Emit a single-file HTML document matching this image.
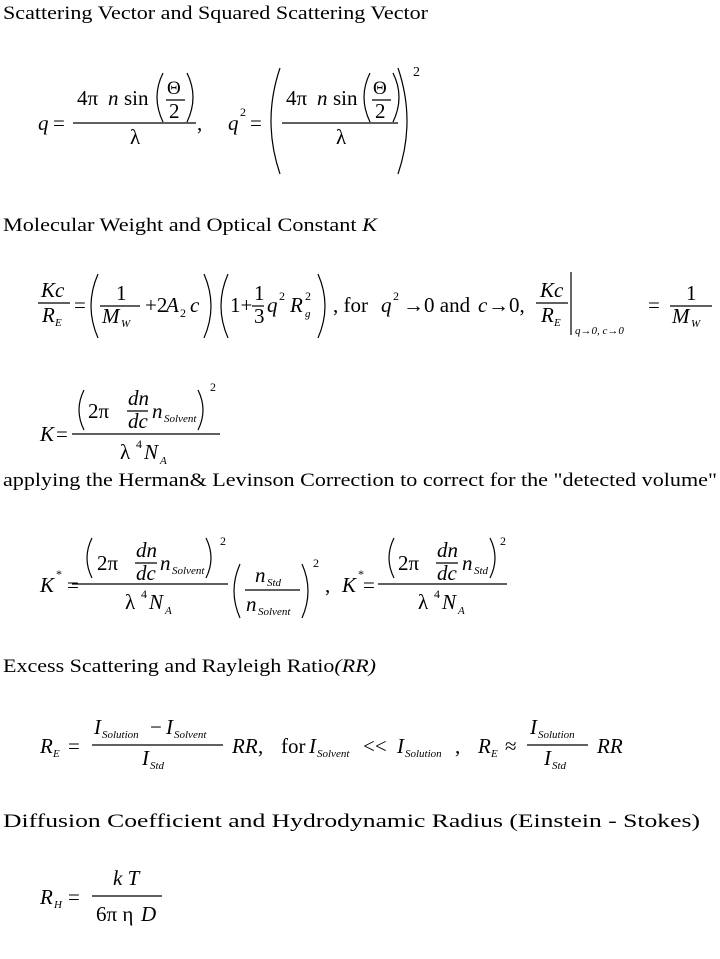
<!DOCTYPE html>
<html><head><meta charset="utf-8"><style>
html,body{margin:0;padding:0;background:#fff}
svg{display:block}
text{font-family:"Liberation Serif",serif;fill:#000;font-size:21px}
.i{font-style:italic}
.s{font-size:12px}
.ss{font-size:11px;font-style:italic}
.h{font-size:19px}
path,line{stroke:#000;fill:none;stroke-width:1.2}
</style></head><body>
<svg width="720" height="959" viewBox="0 0 720 959" xmlns="http://www.w3.org/2000/svg">
<text class="h" x="3" y="19" textLength="425" lengthAdjust="spacingAndGlyphs">Scattering Vector and Squared Scattering Vector</text>
<text class="i" x="38" y="130">q</text>
<text x="53" y="130">=</text>
<line x1="73" y1="123" x2="196" y2="123"/>
<text x="77" y="105">4π</text><text class="i" x="108" y="105">n</text><text x="124" y="105">sin</text>
<path d="M163 73 Q151 97 163 122"/><path d="M187 73 Q199 97 187 122"/>
<text x="167" y="94" style="font-size:19px">Θ</text>
<line x1="166" y1="100" x2="185" y2="100"/>
<text x="169" y="118">2</text>
<text x="130" y="144">λ</text>
<text x="197" y="130">,</text>
<text class="i" x="228" y="130">q</text><text class="s" x="240" y="116">2</text>
<text x="250" y="130">=</text>
<path d="M280 68 Q262 121 280 174"/><path d="M398 68 Q416 121 398 174"/>
<line x1="282" y1="123" x2="398" y2="123"/>
<text x="286" y="105">4π</text><text class="i" x="317" y="105">n</text><text x="333" y="105">sin</text>
<path d="M370 73 Q358 97 370 122"/><path d="M393 73 Q405 97 393 122"/>
<text x="373" y="94" style="font-size:19px">Θ</text>
<line x1="372" y1="100" x2="391" y2="100"/>
<text x="375" y="118">2</text>
<text x="336" y="144">λ</text>
<text class="s" x="413" y="76" style="font-size:14px">2</text>

<text class="h" x="3" y="231" textLength="374" lengthAdjust="spacingAndGlyphs">Molecular Weight and Optical Constant <tspan class="i">K</tspan></text>

<text class="i" x="41" y="297">Kc</text>
<line x1="38" y1="303" x2="70" y2="303"/>
<text class="i" x="42" y="322">R</text><text class="ss" x="55" y="326">E</text>
<text x="74" y="312">=</text>
<path d="M98 274 Q84 306 98 338"/>
<text x="116" y="300">1</text>
<line x1="100" y1="306" x2="140" y2="306"/>
<text class="i" x="102" y="323">M</text><text class="ss" x="121" y="327">W</text>
<text x="145" y="312">+2</text><text class="i" x="166" y="312">A</text><text class="s" x="180" y="317">2</text><text class="i" x="190" y="312">c</text>
<path d="M204 274 Q218 306 204 338"/>
<path d="M228 274 Q214 306 228 338"/>
<text x="230" y="312">1+</text>
<text x="254" y="300">1</text>
<line x1="252" y1="306" x2="264" y2="306"/>
<text x="254" y="323">3</text>
<text class="i" x="267" y="312">q</text><text class="s" x="279" y="300">2</text>
<text class="i" x="290" y="312">R</text><text class="s" x="305" y="300">2</text><text class="ss" x="305" y="317">g</text>
<path d="M318 274 Q332 306 318 338"/>
<text x="333" y="312">, for</text>
<text class="i" x="381" y="312">q</text><text class="s" x="393" y="300">2</text>
<text x="403" y="312">→0 and</text>
<text class="i" x="478" y="312">c</text>
<text x="488" y="312">→0,</text>
<text class="i" x="540" y="297">Kc</text>
<line x1="536" y1="303" x2="568" y2="303"/>
<text class="i" x="541" y="322">R</text><text class="ss" x="554" y="326">E</text>
<line x1="571" y1="272" x2="571" y2="335"/>
<text class="ss" x="575" y="334">q→0, c→0</text>
<text x="648" y="312">=</text>
<text x="686" y="300">1</text>
<line x1="670" y1="306" x2="712" y2="306"/>
<text class="i" x="672" y="323">M</text><text class="ss" x="691" y="327">W</text>

<text class="i" x="40" y="441">K</text>
<text x="56" y="441">=</text>
<line x1="72" y1="434" x2="220" y2="434"/>
<path d="M84 390 Q74 410 84 430"/>
<text x="88" y="418">2π</text>
<text class="i" x="128" y="405">dn</text>
<line x1="127" y1="411" x2="148" y2="411"/>
<text class="i" x="128" y="428">dc</text>
<text class="i" x="152" y="418">n</text><text class="ss" x="164" y="422">Solvent</text>
<path d="M198 390 Q208 410 198 430"/>
<text class="s" x="210" y="391">2</text>
<text x="120" y="459">λ</text><text class="s" x="136" y="448">4</text><text class="i" x="144" y="459">N</text><text class="ss" x="160" y="464">A</text>

<text class="h" x="3" y="486" textLength="714" lengthAdjust="spacingAndGlyphs">applying the Herman&amp; Levinson Correction to correct for the "detected volume"</text>

<text class="i" x="40" y="592">K</text><text class="s" x="56" y="578">*</text>
<text x="67" y="592">=</text>
<line x1="72" y1="584" x2="228" y2="584"/>
<path d="M92 538 Q82 558 92 578"/>
<text x="97" y="570">2π</text>
<text class="i" x="136" y="557">dn</text>
<line x1="135" y1="563" x2="157" y2="563"/>
<text class="i" x="136" y="580">dc</text>
<text class="i" x="160" y="570">n</text><text class="ss" x="172" y="574">Solvent</text>
<path d="M206 538 Q216 558 206 578"/>
<text class="s" x="220" y="545">2</text>
<text x="125" y="609">λ</text><text class="s" x="141" y="598">4</text><text class="i" x="149" y="609">N</text><text class="ss" x="165" y="614">A</text>
<path d="M240 564 Q228 591 240 618"/>
<text class="i" x="255" y="582">n</text><text class="ss" x="267" y="586">Std</text>
<line x1="245" y1="590" x2="300" y2="590"/>
<text class="i" x="246" y="611">n</text><text class="ss" x="258" y="615">Solvent</text>
<path d="M302 564 Q314 591 302 618"/>
<text class="s" x="313" y="567">2</text>
<text x="325" y="592">,</text>
<text class="i" x="342" y="592">K</text><text class="s" x="358" y="578">*</text>
<text x="363" y="592">=</text>
<line x1="378" y1="584" x2="507" y2="584"/>
<path d="M394 538 Q384 558 394 578"/>
<text x="398" y="570">2π</text>
<text class="i" x="437" y="557">dn</text>
<line x1="436" y1="563" x2="458" y2="563"/>
<text class="i" x="437" y="580">dc</text>
<text class="i" x="462" y="570">n</text><text class="ss" x="474" y="574">Std</text>
<path d="M490 538 Q500 558 490 578"/>
<text class="s" x="500" y="545">2</text>
<text x="418" y="609">λ</text><text class="s" x="434" y="598">4</text><text class="i" x="442" y="609">N</text><text class="ss" x="458" y="614">A</text>

<text class="h" x="3" y="672" textLength="373" lengthAdjust="spacingAndGlyphs">Excess Scattering and Rayleigh Ratio<tspan class="i">(RR)</tspan></text>

<text class="i" x="40" y="753">R</text><text class="ss" x="53" y="757">E</text>
<text x="68" y="753">=</text>
<line x1="92" y1="745" x2="223" y2="745"/>
<text class="i" x="94" y="734">I</text><text class="ss" x="102" y="738">Solution</text>
<text x="150" y="734">−</text>
<text class="i" x="166" y="734">I</text><text class="ss" x="174" y="738">Solvent</text>
<text class="i" x="142" y="765">I</text><text class="ss" x="150" y="769">Std</text>
<text class="i" x="232" y="753">RR</text><text x="258" y="753">,</text>
<text x="281" y="753">for</text>
<text class="i" x="309" y="753">I</text><text class="ss" x="317" y="757">Solvent</text>
<text x="363" y="753">&lt;&lt;</text>
<text class="i" x="397" y="753">I</text><text class="ss" x="405" y="757">Solution</text>
<text x="455" y="753">,</text>
<text class="i" x="478" y="753">R</text><text class="ss" x="491" y="757">E</text>
<text x="505" y="753">≈</text>
<line x1="527" y1="745" x2="588" y2="745"/>
<text class="i" x="530" y="734">I</text><text class="ss" x="538" y="738">Solution</text>
<text class="i" x="544" y="765">I</text><text class="ss" x="552" y="769">Std</text>
<text class="i" x="597" y="753">RR</text>

<text class="h" x="3" y="827" textLength="697" lengthAdjust="spacingAndGlyphs">Diffusion Coefficient and Hydrodynamic Radius (Einstein - Stokes)</text>

<text class="i" x="40" y="904">R</text><text class="ss" x="54" y="908">H</text>
<text x="68" y="904">=</text>
<line x1="92" y1="896" x2="162" y2="896"/>
<text class="i" x="113" y="885">k T</text>
<text x="96" y="921">6π η</text><text class="i" x="141" y="921">D</text>
</svg>
</body></html>
